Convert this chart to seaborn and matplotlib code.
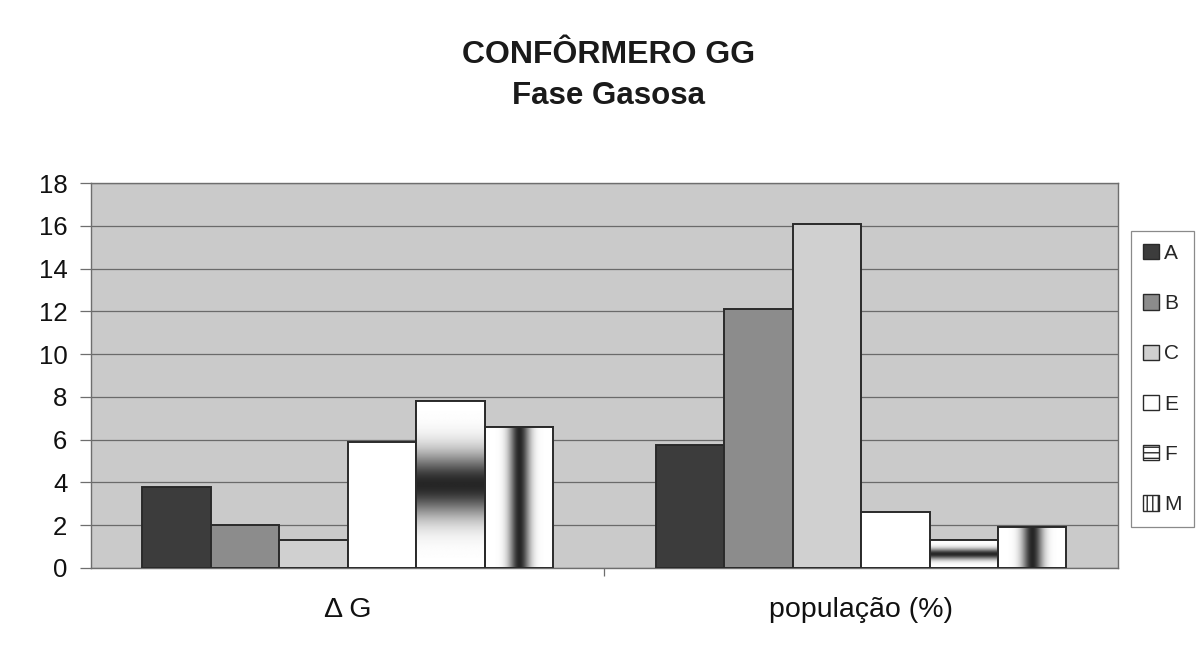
import numpy as np
import pandas as pd
import matplotlib
matplotlib.use("Agg")
import matplotlib.pyplot as plt
from matplotlib.patches import Patch
import seaborn as sns

# ---- data ----
categories = ["\u0394 G", "população (%)"]
series = ["A", "B", "C", "E", "F", "M"]
delta_g = [3.8, 2.0, 1.3, 5.9, 7.8, 6.6]
populacao = [5.75, 12.1, 16.1, 2.6, 1.3, 1.9]
yticks = [0, 2, 4, 6, 8, 10, 12, 14, 16, 18]
title_line1 = "CONFÔRMERO GG"
title_line2 = "Fase Gasosa"

rows = []
for s, v in zip(series, delta_g):
    rows.append({"categoria": categories[0], "serie": s, "valor": v})
for s, v in zip(series, populacao):
    rows.append({"categoria": categories[1], "serie": s, "valor": v})
df = pd.DataFrame(rows)

# ---- style ----
sns.set_style("white")
plt.rcParams["font.family"] = ["Liberation Sans", "DejaVu Sans"]

colors = {"A": "#3c3c3c", "B": "#8c8c8c", "C": "#d0d0d0",
          "E": "#ffffff", "F": "#ffffff", "M": "#ffffff"}

fig = plt.figure(figsize=(11.98, 6.52), dpi=100)
fig.patch.set_facecolor("white")
ax = fig.add_axes([0.076, 0.129, 0.857, 0.590])
ax.set_facecolor("#cacaca")

sns.barplot(data=df, x="categoria", y="valor", hue="serie", hue_order=series,
            order=categories, palette=colors, width=0.8, gap=0,
            edgecolor="#2a2a2a", linewidth=1.4, ax=ax, legend=False, zorder=3)

# gradient fills for F (horizontal dark band) and M (vertical dark band)
n = 256
t = np.linspace(0, 1, n)
band_f = 1 - 0.85 * np.exp(-((t - 0.5) / 0.19) ** 2)
band_m = 1 - 0.85 * np.exp(-((t - 0.5) / 0.15) ** 2)
img_f = band_f[:, None] * np.ones((1, 8))
img_m = band_m[None, :] * np.ones((8, 1))

for idx, img in ((series.index("F"), img_f), (series.index("M"), img_m)):
    for bar in ax.containers[idx]:
        x0, w = bar.get_x(), bar.get_width()
        y0, h = bar.get_y(), bar.get_height()
        im = ax.imshow(img, cmap="gray", vmin=0, vmax=1, aspect="auto",
                       extent=[x0, x0 + w, y0, y0 + h], origin="upper",
                       zorder=3.5, interpolation="bilinear")
        im.set_clip_path(bar)
        ax.add_patch(plt.Rectangle((x0, y0), w, h, fill=False,
                                   edgecolor="#2a2a2a", linewidth=1.4, zorder=4))

ax.set_xlim(-0.5, 1.5)
ax.set_ylim(0, 18)
ax.set_yticks(yticks)
ax.yaxis.grid(True, color="#6a6a6a", linewidth=0.9, zorder=1)
ax.set_axisbelow(True)
ax.tick_params(axis="y", labelsize=18.5, labelcolor="#111111", length=8,
               width=0.9, direction="out", left=True, pad=9, color="#6e6e6e")
ax.set_xticks([0, 1])
ax.set_xticklabels(categories)
ax.tick_params(axis="x", labelsize=20.5, labelcolor="#111111", length=0, pad=21)
ax.set_xticks([0.5], minor=True)
ax.tick_params(axis="x", which="minor", length=6, color="#6e6e6e", width=0.9,
               direction="out", bottom=True)
ax.set_xlabel("")
ax.set_ylabel("")
for sp in ax.spines.values():
    sp.set_visible(True)
    sp.set_color("#6e6e6e")
    sp.set_linewidth(1.0)

# titles
fig.text(0.508, 0.916, title_line1, ha="center", va="center",
         fontsize=23, fontweight="bold", color="#1a1a1a")
fig.text(0.508, 0.852, title_line2, ha="center", va="center",
         fontsize=22.5, fontweight="bold", color="#1a1a1a")

# legend
handles = []
for s in series:
    hatch = None
    if s == "F":
        hatch = "---"
    elif s == "M":
        hatch = "|||"
    handles.append(Patch(facecolor=colors[s], edgecolor="#2a2a2a",
                         linewidth=1.0, hatch=hatch, label=s))
leg = fig.legend(handles=handles, loc="upper left",
                 bbox_to_anchor=(0.944, 0.645), fontsize=15,
                 frameon=True, fancybox=False, edgecolor="#8a8a8a",
                 framealpha=1, handlelength=0.75, handleheight=0.75,
                 handletextpad=0.25, labelspacing=1.5,
                 borderpad=0.6, borderaxespad=0)
leg.get_frame().set_linewidth(0.9)

fig.savefig("out.png", dpi=100, facecolor="white")
